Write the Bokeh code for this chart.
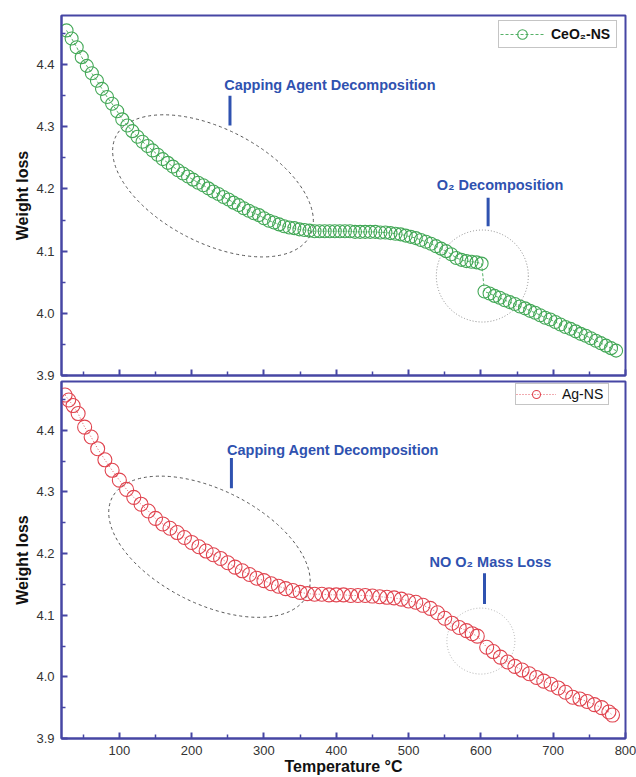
from bokeh.plotting import figure
from bokeh.models import (Range1d, FixedTicker, Legend, LegendItem, Label,
                          NumeralTickFormatter, CustomJSTickFormatter)
from bokeh.layouts import column
from bokeh.embed import file_html
from bokeh.resources import INLINE

# ---------------- data ----------------
ceo2_temp = [27, 34, 41, 48, 55, 62, 69, 76, 83, 90, 97, 104, 111, 118, 125, 132, 139, 146,
             153, 160, 167, 174, 181, 188, 195, 202, 209, 216, 223, 230, 237, 244, 251, 258,
             265, 272, 279, 286, 293, 300, 307, 314, 321, 328, 335, 342, 349, 356, 363, 370,
             377, 384, 391, 398, 405, 412, 419, 426, 433, 440, 447, 454, 461, 468, 475, 482,
             489, 496, 503, 510, 517, 524, 531, 538, 545, 552, 559, 566, 573, 580, 587, 594,
             601, 605, 612, 619, 626, 633, 640, 647, 654, 661, 668, 675, 682, 689, 696, 703,
             710, 717, 724, 731, 738, 745, 752, 759, 766, 773, 780, 787]
ceo2_weight = [4.455, 4.442, 4.428, 4.412, 4.398, 4.386, 4.374, 4.361, 4.348, 4.337, 4.325,
               4.312, 4.302, 4.293, 4.284, 4.276, 4.269, 4.262, 4.255, 4.248, 4.242, 4.236,
               4.230, 4.225, 4.220, 4.215, 4.210, 4.206, 4.201, 4.196, 4.192, 4.187, 4.183,
               4.178, 4.174, 4.169, 4.165, 4.161, 4.158, 4.153, 4.149, 4.146, 4.143, 4.140,
               4.138, 4.137, 4.135, 4.134, 4.133, 4.132, 4.132, 4.132, 4.132, 4.132, 4.132,
               4.132, 4.132, 4.131, 4.131, 4.131, 4.131, 4.131, 4.130, 4.130, 4.129, 4.128,
               4.127, 4.125, 4.123, 4.121, 4.118, 4.115, 4.112, 4.108, 4.104, 4.100, 4.095,
               4.089, 4.086, 4.084, 4.083, 4.082, 4.080, 4.035, 4.032, 4.028, 4.025, 4.021,
               4.018, 4.015, 4.011, 4.008, 4.004, 4.001, 3.997, 3.993, 3.990, 3.986, 3.982,
               3.978, 3.975, 3.971, 3.967, 3.964, 3.960, 3.956, 3.952, 3.948, 3.944, 3.940]

ag_temp = [25, 30, 36, 43, 52, 61, 70, 80, 90, 100, 110, 120, 130, 140, 150, 160, 170, 180,
           190, 200, 210, 220, 230, 240, 250, 260, 270, 280, 290, 300, 310, 320, 330, 340,
           350, 360, 370, 380, 390, 400, 410, 420, 430, 440, 450, 460, 470, 480, 490, 500,
           510, 520, 530, 540, 550, 560, 570, 580, 588, 595, 608, 617, 627, 637, 647, 657,
           667, 677, 687, 697, 707, 717, 727, 737, 747, 757, 767, 777, 782]
ag_weight = [4.457, 4.449, 4.440, 4.427, 4.405, 4.389, 4.370, 4.352, 4.335, 4.319, 4.304,
             4.291, 4.280, 4.269, 4.257, 4.248, 4.241, 4.234, 4.226, 4.218, 4.211, 4.204,
             4.198, 4.192, 4.185, 4.178, 4.172, 4.166, 4.160, 4.156, 4.151, 4.147, 4.143,
             4.140, 4.137, 4.135, 4.134, 4.134, 4.133, 4.133, 4.133, 4.132, 4.132, 4.132,
             4.131, 4.130, 4.129, 4.128, 4.126, 4.123, 4.121, 4.116, 4.111, 4.104, 4.095,
             4.087, 4.080, 4.075, 4.070, 4.066, 4.048, 4.041, 4.032, 4.024, 4.017, 4.011,
             4.005, 3.999, 3.993, 3.988, 3.982, 3.975, 3.967, 3.964, 3.960, 3.955, 3.950,
             3.943, 3.938]

x_ticks = [100, 200, 300, 400, 500, 600, 700, 800]
x_minor = [50, 150, 250, 350, 450, 550, 650, 750]
y_ticks = [3.9, 4.0, 4.1, 4.2, 4.3, 4.4]
y_minor = [3.95, 4.05, 4.15, 4.25, 4.35, 4.45]

# annotation texts and anchor positions (data units)
top_notes = ["Capping Agent Decomposition", "O\u2082 Decomposition"]
top_note_x = [245, 539]
top_note_y = [4.368, 4.2065]
top_bar_x = [253, 610]
top_bar_y0 = [4.350, 4.186]
top_bar_y1 = [4.302, 4.140]

bot_notes = ["Capping Agent Decomposition", "NO O\u2082 Mass Loss"]
bot_note_x = [249, 529]
bot_note_y = [4.368, 4.1855]
bot_bar_x = [255, 605]
bot_bar_y0 = [4.355, 4.168]
bot_bar_y1 = [4.306, 4.118]

AXIS_COLOR = "#4646a4"
NOTE_COLOR = "#2f52b0"
GREEN = "#43a857"
RED = "#e0444f"
FONT = "Liberation Sans"


def make_panel(height, border_top, border_bottom, show_x_labels, fill):
    p = figure(width=636, height=height, output_backend="svg", toolbar_location=None,
               x_range=Range1d(20, 800), y_range=Range1d(3.9, 4.479),
               min_border_left=61, min_border_right=11,
               min_border_top=border_top, min_border_bottom=border_bottom,
               background_fill_color="white", border_fill_color=fill)
    p.xgrid.visible = False
    p.ygrid.visible = False
    p.outline_line_color = AXIS_COLOR
    p.outline_line_width = 2
    p.outline_line_alpha = 1

    for ax in (p.xaxis[0], p.yaxis[0]):
        ax.axis_line_color = AXIS_COLOR
        ax.axis_line_width = 2
        ax.major_tick_line_color = AXIS_COLOR
        ax.minor_tick_line_color = AXIS_COLOR
        ax.major_tick_line_width = 2
        ax.minor_tick_line_width = 1.5
        ax.major_tick_in = 6
        ax.major_tick_out = 0
        ax.minor_tick_in = 4
        ax.minor_tick_out = 0
        ax.major_label_text_font = FONT
        ax.major_label_text_font_size = "13px"
        ax.major_label_text_color = "#333333"
        ax.axis_label_text_font = FONT
        ax.axis_label_text_font_size = "16px"
        ax.axis_label_text_font_style = "bold"
        ax.axis_label_text_color = "#111111"

    p.xaxis.ticker = FixedTicker(ticks=x_ticks, minor_ticks=x_minor)
    p.yaxis.ticker = FixedTicker(ticks=y_ticks, minor_ticks=y_minor)
    p.yaxis.formatter = NumeralTickFormatter(format="0.0")
    p.yaxis.axis_label = "Weight loss"
    p.yaxis.major_label_standoff = 7
    p.yaxis.axis_label_standoff = 2

    if show_x_labels:
        p.xaxis.axis_label = "Temperature \u00b0C"
        p.xaxis.major_label_standoff = 7
        p.xaxis.axis_label_standoff = 0
    else:
        # the upper panel shares the temperature axis: ticks only, no labels
        p.xaxis.formatter = CustomJSTickFormatter(code="return ''")
        p.xaxis.major_label_standoff = 0
        p.xaxis.axis_label = None
    return p


def add_notes(p, texts, xs, ys, bx, by0, by1):
    for t, x, y in zip(texts, xs, ys):
        p.add_layout(Label(x=x, y=y, text=t, text_font=FONT, text_font_size="14.5px",
                           text_font_style="bold", text_color=NOTE_COLOR,
                           text_baseline="middle", text_align="left"))
    p.segment(x0=bx, y0=by0, x1=bx, y1=by1, line_color=NOTE_COLOR, line_width=3)


# ---------------- top panel: CeO2-NS ----------------
p1 = make_panel(385, 15, 10, False, "white")
p1.ellipse(x=[229.5], y=[4.205], width=218, height=114, angle=-0.475,
           width_units="screen", height_units="screen",
           fill_color=None, line_color="#555555", line_dash="3 3", line_width=1)
p1.ellipse(x=[602], y=[4.060], width=92, height=92,
           width_units="screen", height_units="screen",
           fill_color=None, line_color="#8a8a8a", line_dash="1 2", line_width=1)
add_notes(p1, top_notes, top_note_x, top_note_y, top_bar_x, top_bar_y0, top_bar_y1)
l1 = p1.line(ceo2_temp, ceo2_weight, line_color=GREEN, line_width=0.9, line_dash="3 2")
s1 = p1.scatter(ceo2_temp, ceo2_weight, marker="circle", size=13, fill_color=None,
                line_color=GREEN, line_width=1.1)
leg1 = Legend(items=[LegendItem(label="CeO\u2082-NS", renderers=[l1, s1])],
              location=(437, 327), orientation="vertical",
              label_text_font=FONT, label_text_font_size="14px", label_text_font_style="bold",
              label_text_color="#111111", glyph_width=44, glyph_height=24, label_height=24,
              label_width=64, label_standoff=7, padding=1, spacing=0, margin=0,
              border_line_color="#8c8c8c", border_line_width=1,
              background_fill_color="white", background_fill_alpha=1)
p1.add_layout(leg1)

# ---------------- bottom panel: Ag-NS ----------------
# transparent border so it can tuck up under the upper panel's bottom labels
p2 = make_panel(397, 1, 37, True, None)
p2.margin = (-5, 0, 0, 0)
p2.ellipse(x=[224.6], y=[4.211], width=218, height=114, angle=-0.465,
           width_units="screen", height_units="screen",
           fill_color=None, line_color="#555555", line_dash="3 3", line_width=1)
p2.ellipse(x=[600], y=[4.058], width=68, height=66,
           width_units="screen", height_units="screen",
           fill_color=None, line_color="#b0b0b0", line_dash="1 2", line_width=1)
add_notes(p2, bot_notes, bot_note_x, bot_note_y, bot_bar_x, bot_bar_y0, bot_bar_y1)
l2 = p2.line(ag_temp, ag_weight, line_color=RED, line_width=0.9, line_dash="1 2")
s2 = p2.scatter(ag_temp, ag_weight, marker="circle", size=14, fill_color=None,
                line_color=RED, line_width=1.1)
leg2 = Legend(items=[LegendItem(label="Ag-NS", renderers=[l2, s2])],
              location=(454, 333), orientation="vertical",
              label_text_font=FONT, label_text_font_size="14px",
              label_text_color="#111111", glyph_width=40, glyph_height=20, label_height=20,
              label_width=46, label_standoff=6, padding=0, spacing=0, margin=0,
              border_line_color="#8c8c8c", border_line_width=1,
              background_fill_color="white", background_fill_alpha=1)
p2.add_layout(leg2)

layout = column(p1, p2, spacing=0, background="white")
open("out.html", "w").write(file_html(layout, INLINE))
